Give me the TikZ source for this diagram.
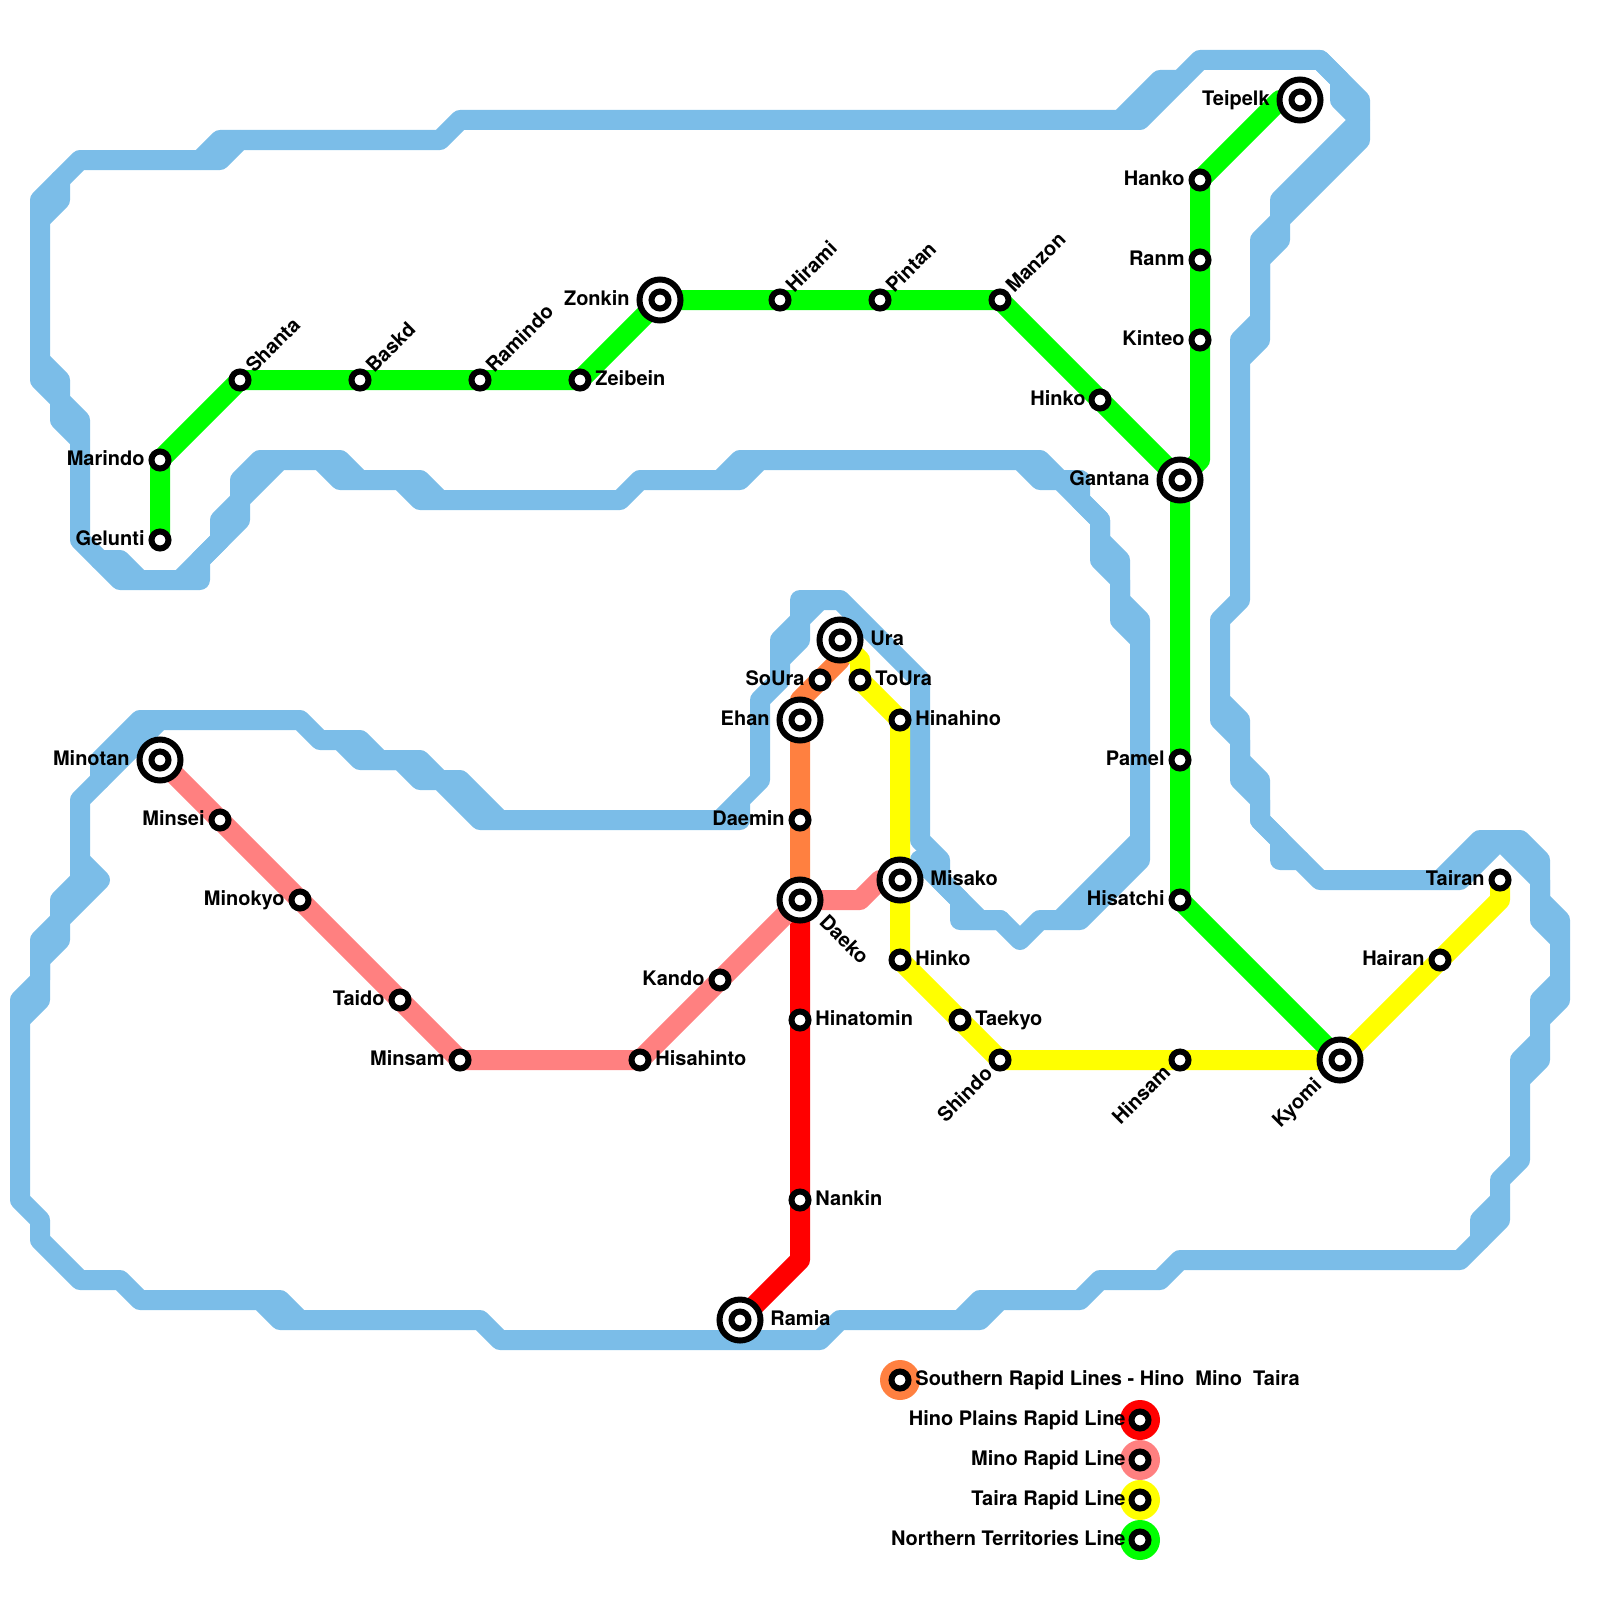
\documentclass[tikz,border=0pt]{standalone}
\usepackage{xcolor}
\usepackage{fontspec}
\setmainfont{TeX Gyre Heros}
\usetikzlibrary{backgrounds}
\definecolor{rvblue}{HTML}{7BBDE8}
\definecolor{lnorange}{HTML}{FF8040}
\definecolor{lnred}{HTML}{FF0000}
\definecolor{lnpink}{HTML}{FF8080}
\definecolor{lnyellow}{HTML}{FFFF00}
\definecolor{lngreen}{HTML}{00FF00}
\tikzset{
    stn/.style={circle, draw=black, fill=white, line width=3pt, minimum size=8.5pt, inner sep=0pt},
    hub/.style={circle, draw=black, fill=white, line width=3pt, minimum size=20.5pt, inner sep=0pt},
    key/.style={circle, minimum size=20pt, inner sep=0pt},
    lbl/.style={font=\bfseries\fontsize{10}{12}\selectfont, inner sep=0pt},
    lbe/.style={lbl, anchor=base east},
    lbw/.style={lbl, anchor=base west},
    metro/.style={line width=10pt, line join=round},
    river/.style={line width=10pt, line join=round, line cap=round, draw=rvblue}
}

\begin{document}
\begin{tikzpicture}[x=0.5pt, y=-0.5pt]
    \useasboundingbox (0,0) rectangle (1600,1600);

    % Northern line stations
    \node[stn] (gelunti) at (160,540) {};
    \node[stn] (marindo) at (160,460) {};
    \node[stn] (shanta) at (240,380) {};
    \node[stn] (baskd) at (360,380) {};
    \node[stn] (ramindo) at (480,380) {};
    \node[stn] (zeibein) at (580,380) {};
    \node[hub] (zonkin) at (660,300) {};
    \node[stn] (zonkinc) at (zonkin) {};
    \node[stn] (hirami) at (780,300) {};
    \node[stn] (pintan) at (880,300) {};
    \node[stn] (manzon) at (1000,300) {};
    \node[stn] (hinkon) at (1100,400) {};
    \node[hub] (gantana) at (1180,480) {};
    \node[stn] (gantanac) at (gantana) {};
    \node[stn] (kinteo) at (1200,340) {};
    \node[stn] (ranm) at (1200,260) {};
    \node[stn] (hanko) at (1200,180) {};
    \node[hub] (teipelk) at (1300,100) {};
    \node[stn] (teipelkc) at (teipelk) {};
    \node[stn] (pamel) at (1180,760) {};
    \node[stn] (hisatchi) at (1180,900) {};
    \node[hub] (kyomi) at (1340,1060) {};
    \node[stn] (kyomic) at (kyomi) {};

    % Taira line stations
    \node[hub] (ura) at (840,640) {};
    \node[stn] (urac) at (ura) {};
    \node[stn] (toura) at (860,680) {};
    \node[stn] (hinahino) at (900,720) {};
    \node[hub] (misako) at (900,880) {};
    \node[stn] (misakoc) at (misako) {};
    \node[stn] (hinkos) at (900,960) {};
    \node[stn] (taekyo) at (960,1020) {};
    \node[stn] (shindo) at (1000,1060) {};
    \node[stn] (hinsam) at (1180,1060) {};
    \node[stn] (hairan) at (1440,960) {};
    \node[stn] (tairan) at (1500,880) {};

    % Southern and Hino stations
    \node[stn] (soura) at (820,680) {};
    \node[hub] (ehan) at (800,720) {};
    \node[stn] (ehanc) at (ehan) {};
    \node[stn] (daemin) at (800,820) {};
    \node[hub] (daeko) at (800,900) {};
    \node[stn] (daekoc) at (daeko) {};
    \node[stn] (hinatomin) at (800,1020) {};
    \node[stn] (nankin) at (800,1200) {};
    \node[hub] (ramia) at (740,1320) {};
    \node[stn] (ramiac) at (ramia) {};

    % Mino line stations
    \node[hub] (minotan) at (160,760) {};
    \node[stn] (minotanc) at (minotan) {};
    \node[stn] (minsei) at (220,820) {};
    \node[stn] (minokyo) at (300,900) {};
    \node[stn] (taido) at (400,1000) {};
    \node[stn] (minsam) at (460,1060) {};
    \node[stn] (hisahinto) at (640,1060) {};
    \node[stn] (kando) at (720,980) {};

    % Bends
    \coordinate (grbenda) at (1200,460);
    \coordinate (grbendb) at (1280,100);
    \coordinate (orbenda) at (840,660);
    \coordinate (orbendb) at (800,700);
    \coordinate (ylbenda) at (860,660);
    \coordinate (ylbendb) at (1500,900);
    \coordinate (rdbend) at (800,1260);
    \coordinate (pkbenda) at (860,900);
    \coordinate (pkbendb) at (880,880);

    \begin{scope}[on background layer]
        % Water
        \draw[river] (80,160) -- (220,160) -- (240,140) -- (440,140) -- (460,120) -- (1140,120) -- (1200,60) -- (1320,60) -- (1360,100) -- (1360,140) -- (1280,220) -- (1280,240) -- (1260,260) -- (1260,340) -- (1240,360) -- (1240,600) -- (1220,620) -- (1220,700) -- (1240,720) -- (1240,760) -- (1260,780) -- (1260,820) -- (1320,880) -- (1440,880) -- (1480,840) -- (1520,840) -- (1540,860) -- (1540,900) -- (1560,920) -- (1560,1000) -- (1540,1020) -- (1540,1060) -- (1520,1080) -- (1520,1160) -- (1500,1180) -- (1500,1220) -- (1460,1260) -- (1180,1260) -- (1160,1280) -- (1100,1280) -- (1080,1300) -- (1000,1300) -- (980,1320) -- (840,1320) -- (820,1340) -- (500,1340) -- (480,1320) -- (280,1320) -- (260,1300) -- (140,1300) -- (120,1280) -- (80,1280) -- (40,1240) -- (40,1220) -- (20,1200) -- (20,1000) -- (40,980) -- (40,940) -- (60,920) -- (60,900) -- (80,880) -- (80,800) -- (160,720) -- (300,720) -- (320,740) -- (360,740) -- (380,760) -- (420,760) -- (440,780) -- (460,780) -- (500,820) -- (740,820) -- (740,800) -- (760,780) -- (760,700) -- (780,680) -- (780,640) -- (800,620) -- (800,600) -- (840,600) -- (920,680) -- (920,840) -- (940,860) -- (940,880) -- (980,920) -- (1000,920) -- (1020,940) -- (1040,920) -- (1080,920) -- (1140,860) -- (1140,620) -- (1120,600) -- (1120,560) -- (1100,540) -- (1100,520) -- (1080,500) -- (1080,480) -- (1060,480) -- (1040,460) -- (760,460) -- (740,480) -- (640,480) -- (620,500) -- (440,500) -- (420,480) -- (360,480) -- (340,460) -- (280,460) -- (240,500) -- (240,520) -- (200,560) -- (200,580) -- (120,580) -- (80,540) -- (80,440) -- (60,420) -- (60,400) -- (40,380) -- (40,200) -- (80,160);
        \draw[river] (200,160) -- (220,140) -- (240,140);
        \draw[river] (60,180) -- (60,200) -- (40,220);
        \draw[river] (40,360) -- (60,380) -- (60,400) -- (80,420) -- (80,440);
        \draw[river] (100,560) -- (120,560) -- (140,580);
        \draw[river] (180,580) -- (220,540) -- (220,520) -- (240,500) -- (240,480) -- (260,460) -- (280,460);
        \draw[river] (320,460) -- (340,480) -- (360,480);
        \draw[river] (400,480) -- (420,500) -- (440,500);
        \draw[river] (720,480) -- (740,460) -- (760,460);
        \draw[river] (1020,460) -- (1040,480) -- (1080,480);
        \draw[river] (1060,480) -- (1100,520) -- (1100,560) -- (1120,580) -- (1120,620) -- (1140,640);
        \draw[river] (1140,840) -- (1060,920);
        \draw[river] (920,860) -- (960,900) -- (960,920) -- (1000,920);
        \draw[river] (740,800) -- (720,820);
        \draw[river] (820,600) -- (800,620) -- (800,640) -- (780,660);
        \draw[river] (340,740) -- (360,760) -- (400,760) -- (420,780) -- (440,780) -- (480,820) -- (500,820);
        \draw[river] (80,860) -- (100,880) -- (60,920) -- (60,940) -- (40,960) -- (40,1000) -- (20,1020);
        \draw[river] (160,720) -- (140,720) -- (100,760) -- (100,780);
        \draw[river] (260,1300) -- (280,1300) -- (300,1320);
        \draw[river] (960,1320) -- (980,1300) -- (1000,1300);
        \draw[river] (1120,120) -- (1160,80) -- (1180,80);
        \draw[river] (1360,120) -- (1340,100) -- (1340,80) -- (1320,60);
        \draw[river] (1360,120) -- (1280,200) -- (1280,220) -- (1260,240) -- (1260,320) -- (1240,340) -- (1240,360);
        \draw[river] (1220,700) -- (1220,720) -- (1240,740) -- (1240,780) -- (1260,800) -- (1260,820) -- (1280,840) -- (1280,860) -- (1300,860);
        \draw[river] (1480,1240) -- (1480,1220) -- (1500,1200);
        \draw[river] (1520,1080) -- (1520,1060) -- (1540,1040);
        \draw[river] (1540,1020) -- (1540,1000) -- (1560,980);
        \draw[river] (1560,940) -- (1540,920) -- (1540,880) -- (1500,840) -- (1460,880) -- (1440,880);

        % Lines
        \draw[metro, lnorange] (ura.center) -- (orbenda) -- (orbendb) -- (ehan.center) -- (daemin.center) -- (daeko.center);
        \draw[metro, lnred] (daeko.center) -- (hinatomin.center) -- (nankin.center) -- (rdbend) -- (ramia.center);
        \draw[metro, lnpink] (minotan.center) -- (minsei.center) -- (minokyo.center) -- (taido.center) -- (minsam.center) -- (hisahinto.center) -- (kando.center) -- (daeko.center) -- (pkbenda) -- (pkbendb) -- (misako.center);
        \draw[metro, lnyellow] (ura.center) -- (ylbenda) -- (toura.center) -- (hinahino.center) -- (misako.center) -- (hinkos.center) -- (taekyo.center) -- (shindo.center) -- (hinsam.center) -- (kyomi.center) -- (hairan.center) -- (ylbendb) -- (tairan.center);
        \draw[metro, lngreen] (gelunti.center) -- (marindo.center) -- (shanta.center) -- (baskd.center) -- (ramindo.center) -- (zeibein.center) -- (zonkin.center) -- (hirami.center) -- (pintan.center) -- (manzon.center) -- (hinkon.center) -- (gantana.center) -- (pamel.center) -- (hisatchi.center) -- (kyomi.center);
        \draw[metro, lngreen] (gantana.center) -- (grbenda) -- (kinteo.center) -- (ranm.center) -- (hanko.center) -- (grbendb) -- (teipelk.center);
    \end{scope}

    % Labels to the left
    \node[lbe] (lbmarindo) at (145,465) {Marindo};
    \node[lbe] (lbgelunti) at (145,545) {Gelunti};
    \node[lbe] (lbzonkin) at (630,305) {Zonkin};
    \node[lbe] (lbhanko) at (1185,185) {Hanko};
    \node[lbe] (lbranm) at (1185,265) {Ranm};
    \node[lbe] (lbkinteo) at (1185,345) {Kinteo};
    \node[lbe] (lbhinkon) at (1086,405) {Hinko};
    \node[lbe] (lbgantana) at (1150,485) {Gantana};
    \node[lbe] (lbteipelk) at (1270,105) {Teipelk};
    \node[lbe] (lbpamel) at (1165,765) {Pamel};
    \node[lbe] (lbhisatchi) at (1165,905) {Hisatchi};
    \node[lbe] (lbminotan) at (130,765) {Minotan};
    \node[lbe] (lbminsei) at (205,825) {Minsei};
    \node[lbe] (lbminokyo) at (285,905) {Minokyo};
    \node[lbe] (lbtaido) at (385,1005) {Taido};
    \node[lbe] (lbminsam) at (445,1065) {Minsam};
    \node[lbe] (lbkando) at (705,985) {Kando};
    \node[lbe] (lbdaemin) at (785,825) {Daemin};
    \node[lbe] (lbehan) at (770,725) {Ehan};
    \node[lbe] (lbsoura) at (805,685) {SoUra};
    \node[lbe] (lbtairan) at (1485,885) {Tairan};
    \node[lbe] (lbhairan) at (1425,965) {Hairan};

    % Labels to the right
    \node[lbw] (lbzeibein) at (595,385) {Zeibein};
    \node[lbw] (lbhisahinto) at (655,1065) {Hisahinto};
    \node[lbw] (lbhinahino) at (915,725) {Hinahino};
    \node[lbw] (lbtoura) at (875,685) {ToUra};
    \node[lbw] (lbura) at (870,645) {Ura};
    \node[lbw] (lbmisako) at (930,885) {Misako};
    \node[lbw] (lbhinkos) at (915,965) {Hinko};
    \node[lbw] (lbhinatomin) at (815,1025) {Hinatomin};
    \node[lbw] (lbtaekyo) at (975,1025) {Taekyo};
    \node[lbw] (lbnankin) at (815,1205) {Nankin};
    \node[lbw] (lbramia) at (770,1325) {Ramia};

    % Slanted labels
    \node[lbw, rotate=45] (lbshanta) at (254,374) {Shanta};
    \node[lbw, rotate=45] (lbbaskd) at (374,374) {Baskd};
    \node[lbw, rotate=45] (lbramindo) at (494,374) {Ramindo};
    \node[lbw, rotate=45] (lbhirami) at (794,294) {Hirami};
    \node[lbw, rotate=45] (lbpintan) at (894,294) {Pintan};
    \node[lbw, rotate=45] (lbmanzon) at (1014,294) {Manzon};
    \node[lbe, rotate=45] (lbshindo) at (994,1075) {Shindo};
    \node[lbe, rotate=45] (lbhinsam) at (1172,1074) {Hinsam};
    \node[lbe, rotate=45] (lbkyomi) at (1323,1086) {Kyomi};
    \node[lbw, rotate=-45] (lbdaeko) at (818,923) {Daeko};

    % Key
    \node[key, fill=lnorange] (keysouth) at (900,1380) {};
    \node[stn] (keysouthc) at (keysouth) {};
    \node[lbw] (lbsouth) at (915,1385) {Southern Rapid Lines - Hino\ \ Mino\ \ Taira};
    \node[key, fill=lnred] (keyhino) at (1140,1420) {};
    \node[stn] (keyhinoc) at (keyhino) {};
    \node[lbe] (lbhino) at (1126,1425) {Hino Plains Rapid Line};
    \node[key, fill=lnpink] (keymino) at (1140,1460) {};
    \node[stn] (keyminoc) at (keymino) {};
    \node[lbe] (lbmino) at (1126,1465) {Mino Rapid Line};
    \node[key, fill=lnyellow] (keytaira) at (1140,1500) {};
    \node[stn] (keytairac) at (keytaira) {};
    \node[lbe] (lbtaira) at (1126,1505) {Taira Rapid Line};
    \node[key, fill=lngreen] (keynorth) at (1140,1540) {};
    \node[stn] (keynorthc) at (keynorth) {};
    \node[lbe] (lbnorth) at (1126,1545) {Northern Territories Line};
\end{tikzpicture}
\end{document}
